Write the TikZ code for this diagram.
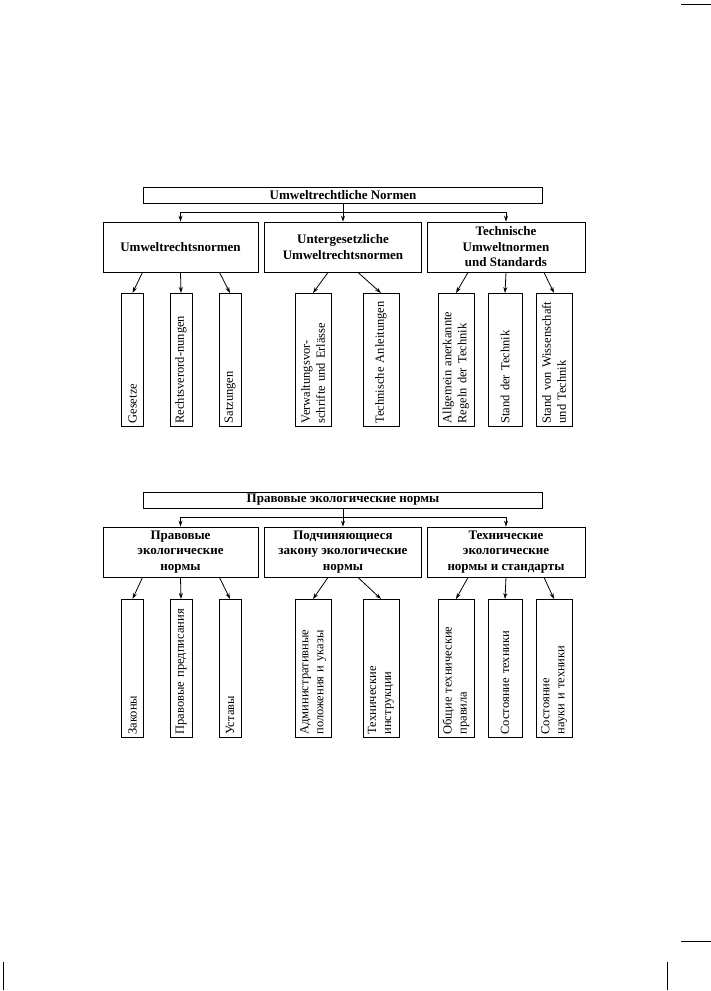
\documentclass[tikz,border=0pt]{standalone}
\usepackage{fontspec}
\setmainfont{Liberation Serif}
\usetikzlibrary{arrows.meta}
\tikzset{
  headbox/.style={draw,line width=0.9pt,minimum width=399pt,minimum height=16pt,inner sep=0pt,
    font=\fontsize{13}{15}\selectfont\bfseries},
  groupbox/.style={draw,line width=0.9pt,minimum height=50pt,inner sep=2pt,align=center,
    font=\fontsize{13}{15.5}\selectfont\bfseries},
  leafbox/.style={draw,line width=0.9pt,rotate=90,anchor=east,align=left,inner xsep=3pt,
    inner ysep=1pt,minimum height=22pt,text width=#1,font=\fontsize{12.5}{15}\selectfont},
  arr/.style={-{Stealth[length=6pt,width=4pt]},line width=0.8pt}
}

\begin{document}
\begin{tikzpicture}[x=1pt,y=-1pt]
  \useasboundingbox (0,0) rectangle (711,991);
  % Page marks
  \draw[line width=1pt] (681,4) -- (711,4);
  \draw[line width=1pt] (681,941) -- (711,941);
  \draw[line width=1pt] (3,962) -- (3,990);
  \draw[line width=1pt] (667,962) -- (667,990);
  % German scheme
  \node[headbox] (t) at (343,195) {Umweltrechtliche Normen};
  \node[groupbox,minimum width=155pt] (u1) at (180.5,247) {Umweltrechtsnormen};
  \node[groupbox,minimum width=157pt] (u2) at (343,247) {Untergesetzliche\\Umweltrechtsnormen};
  \node[groupbox,minimum width=158pt] (u3) at (506,247) {Technische\\Umweltnormen\\und Standards};
  \node[leafbox=127pt] (g1) at (132.5,293) {Gesetze};
  \node[leafbox=127pt] (g2) at (181,293) {Rechtsverord-nungen};
  \node[leafbox=127pt] (g3) at (230,293) {Satzungen};
  \node[leafbox=127pt,minimum height=36pt] (g4) at (313,293) {Verwaltungsvor-\\schrifte und Erlässe};
  \node[leafbox=127pt,minimum height=36pt] (g5) at (381,293) {Technische Anleitungen};
  \node[leafbox=127pt,minimum height=36pt] (g6) at (456,293) {Allgemein anerkannte\\Regeln der Technik};
  \node[leafbox=127pt,minimum height=34pt] (g7) at (505,293) {Stand der Technik};
  \node[leafbox=127pt,minimum height=36pt] (g8) at (554,293) {Stand von Wissenschaft\\und Technik};
  \draw[line width=0.8pt] (t.south) -- ++(0,9) coordinate (tj);
  \foreach \n in {u1,u2,u3}
    \draw[arr] (tj) -| (\n.north);
  \draw[arr] ([xshift=-38pt]u1.south) -- (g1.east);
  \draw[arr] (u1.south) -- (g2.east);
  \draw[arr] ([xshift=39pt]u1.south) -- (g3.east);
  \draw[arr] ([xshift=-15pt]u2.south) -- (g4.east);
  \draw[arr] ([xshift=15pt]u2.south) -- (g5.east);
  \draw[arr] ([xshift=-38pt]u3.south) -- (g6.east);
  \draw[arr] (u3.south) -- (g7.east);
  \draw[arr] ([xshift=38pt]u3.south) -- (g8.east);
  % Russian scheme
  \node[headbox] (r) at (343,500) {Правовые экологические нормы};
  \node[groupbox,minimum width=155pt] (p1) at (180.5,552) {Правовые\\экологические\\нормы};
  \node[groupbox,minimum width=157pt] (p2) at (343,552) {Подчиняющиеся\\закону экологические\\нормы};
  \node[groupbox,minimum width=158pt] (p3) at (506,552) {Технические\\экологические\\нормы и стандарты};
  \node[leafbox=132pt] (q1) at (132.5,599) {Законы};
  \node[leafbox=132pt] (q2) at (181,599) {Правовые предписания};
  \node[leafbox=132pt] (q3) at (230,599) {Уставы};
  \node[leafbox=132pt,minimum height=36pt] (q4) at (313,599) {Административные\\положения и указы};
  \node[leafbox=132pt,minimum height=36pt] (q5) at (381,599) {Технические\\инструкции};
  \node[leafbox=132pt,minimum height=36pt] (q6) at (456,599) {Общие технические\\правила};
  \node[leafbox=132pt,minimum height=34pt] (q7) at (505,599) {Состояние техники};
  \node[leafbox=132pt,minimum height=36pt] (q8) at (554,599) {Состояние\\науки и техники};
  \draw[line width=0.8pt] (r.south) -- ++(0,9) coordinate (rj);
  \foreach \n in {p1,p2,p3}
    \draw[arr] (rj) -| (\n.north);
  \draw[arr] ([xshift=-38pt]p1.south) -- (q1.east);
  \draw[arr] (p1.south) -- (q2.east);
  \draw[arr] ([xshift=39pt]p1.south) -- (q3.east);
  \draw[arr] ([xshift=-15pt]p2.south) -- (q4.east);
  \draw[arr] ([xshift=15pt]p2.south) -- (q5.east);
  \draw[arr] ([xshift=-38pt]p3.south) -- (q6.east);
  \draw[arr] (p3.south) -- (q7.east);
  \draw[arr] ([xshift=38pt]p3.south) -- (q8.east);
\end{tikzpicture}
\end{document}
